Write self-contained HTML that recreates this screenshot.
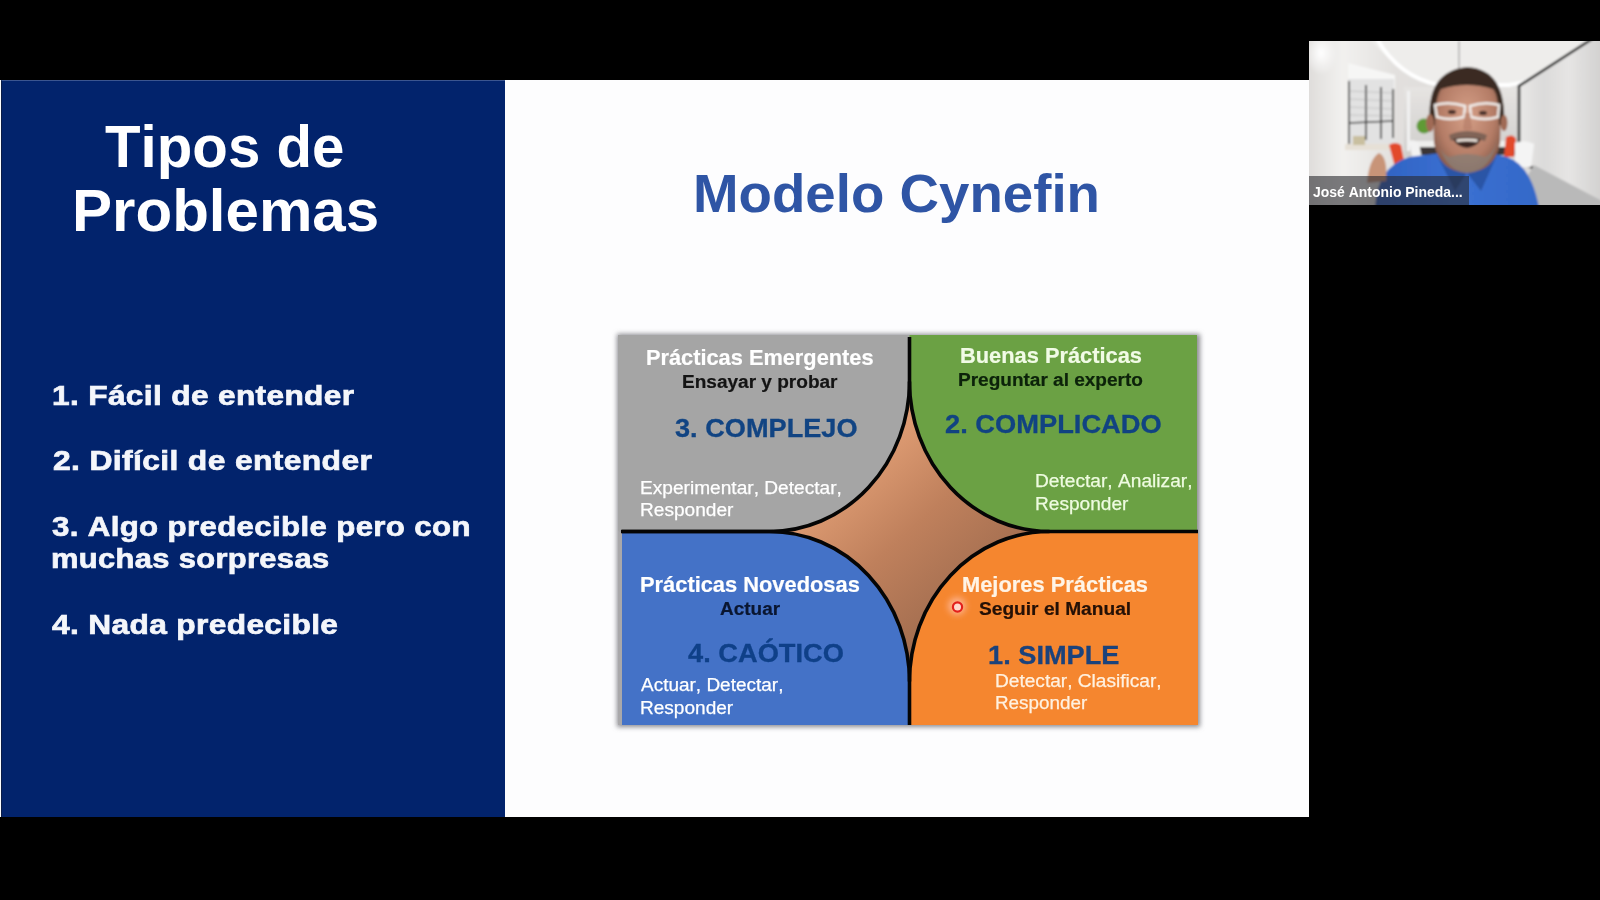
<!DOCTYPE html>
<html><head><meta charset="utf-8">
<style>
html,body{margin:0;padding:0;background:#000;width:1600px;height:900px;overflow:hidden}
body{position:relative;font-family:"Liberation Sans",sans-serif}
.slide{position:absolute;left:0;top:80px;width:1309px;height:737px;background:#fdfdfe}
.panel{position:absolute;left:1px;top:80px;width:504px;border-left:1px solid #0b1c46;box-sizing:border-box;border-top:1px solid #3b5590;height:737px;background:#02236c}
.dg{position:absolute;left:0;top:0}
.t{position:absolute;white-space:nowrap;line-height:1;transform-origin:0 0;font-kerning:none}
.cam{position:absolute;left:1309px;top:41px;width:291px;height:164px;overflow:hidden;background:#d8d6d4}
</style></head><body>
<div class="slide"></div>
<div class="panel"></div>
<svg class="dg" width="1600" height="900" viewBox="0 0 1600 900">
<defs>
<linearGradient id="star" x1="830" y1="440" x2="990" y2="620" gradientUnits="userSpaceOnUse">
<stop offset="0" stop-color="#eba77c"/>
<stop offset="0.5" stop-color="#bf805c"/>
<stop offset="1" stop-color="#9a684c"/>
</linearGradient>
<filter id="glow" x="-100%" y="-100%" width="300%" height="300%"><feGaussianBlur stdDeviation="3"/></filter>
<filter id="sh" x="-5%" y="-5%" width="110%" height="110%"><feGaussianBlur stdDeviation="2.5"/></filter>
</defs>
<rect x="617" y="334" width="583" height="393" fill="#8a8a90" filter="url(#sh)"/>
<rect x="759.5" y="371.5" width="300" height="320" fill="url(#star)"/>
<path d="M618 335 H909.5 V381.5 A140 150 0 0 1 769.5 531.5 H618 Z" fill="#a5a5a5"/>
<path d="M909.5 335 H1197 V531.5 H1049.5 A140 150 0 0 1 909.5 381.5 Z" fill="#6ba144"/>
<rect x="618" y="531.5" width="6" height="193.5" fill="#a9a8aa"/>
<path d="M622 531.5 H769.5 A140 150 0 0 1 909.5 681.5 V725 H622 Z" fill="#4472c7"/>
<path d="M909.5 725 V681.5 A140 150 0 0 1 1049.5 531.5 H1198 V725 Z" fill="#f5862f"/>
<g fill="none" stroke="#050505" stroke-width="3.6">
<path d="M909.5 337 V381.5 A140 150 0 0 1 769.5 531.5 H621"/>
<path d="M909.5 381.5 A140 150 0 0 0 1049.5 531.5 H1198"/>
<path d="M622 531.5 H769.5 A140 150 0 0 1 909.5 681.5 V725"/>
<path d="M909.5 681.5 A140 150 0 0 1 1049.5 531.5"/>
</g>
<circle cx="957" cy="606" r="9" fill="#ffb898" opacity="0.85" filter="url(#glow)"/>
<circle cx="957.5" cy="607" r="4.6" fill="#ffd8cc" stroke="#e3201b" stroke-width="2.2"/>
</svg>

<div class="cam"><svg width="291" height="164" viewBox="0 0 291 164" style="position:absolute;left:0;top:0">
<defs>
<linearGradient id="wallL" x1="0" y1="0" x2="1" y2="0">
<stop offset="0" stop-color="#dedcda"/><stop offset="0.12" stop-color="#f2f1ef"/><stop offset="0.3" stop-color="#e2e0de"/><stop offset="1" stop-color="#d8d6d4"/>
</linearGradient>
<linearGradient id="back" x1="0" y1="0" x2="0" y2="1">
<stop offset="0" stop-color="#e6e4e2"/><stop offset="1" stop-color="#cfcdcb"/>
</linearGradient>
<linearGradient id="rwall" x1="0" y1="0" x2="1" y2="0">
<stop offset="0" stop-color="#e9e8e7"/><stop offset="0.3" stop-color="#dcdbda"/><stop offset="0.6" stop-color="#e6e5e4"/><stop offset="1" stop-color="#d2d1d0"/>
</linearGradient>
<linearGradient id="shirt" x1="0" y1="0" x2="1" y2="0">
<stop offset="0" stop-color="#2f62c2"/><stop offset="0.5" stop-color="#3b70d2"/><stop offset="1" stop-color="#3469c8"/>
</linearGradient>
<radialGradient id="face" cx="0.5" cy="0.45" r="0.62">
<stop offset="0" stop-color="#d6a088"/><stop offset="0.65" stop-color="#b47c66"/><stop offset="1" stop-color="#7c5444"/>
</radialGradient>
<radialGradient id="spot"><stop offset="0" stop-color="#ffffff"/><stop offset="1" stop-color="#ffffff" stop-opacity="0"/></radialGradient>
<filter id="bl"><feGaussianBlur stdDeviation="1"/></filter>
</defs>
<g filter="url(#bl)">
<rect x="-2" y="-2" width="295" height="168" fill="url(#wallL)"/>
<path d="M60 -2 H293 V20 Q240 40 200 44 H120 Q90 30 60 -2 Z" fill="#eeedeb"/>
<ellipse cx="12" cy="12" rx="16" ry="22" fill="url(#spot)"/>
<path d="M39 22 L86 34 V48 L39 40 Z" fill="#f6f6f5"/>
<path d="M68 -2 Q90 36 130 44 L200 44 Q240 38 262 20" fill="none" stroke="#ffffff" stroke-width="4"/>
<rect x="95" y="46" width="115" height="70" fill="url(#back)"/>
<rect x="98" y="50" width="3" height="60" fill="#f2f2f2"/>
<line x1="150" y1="0" x2="150" y2="30" stroke="#777" stroke-width="0.8"/>
<path d="M281 -2 L210 45 V120 L293 162 V-2 Z" fill="url(#rwall)"/>
<path d="M283 -2 L210 45 V120 L293 162" fill="none" stroke="#1a1a1a" stroke-width="2.6"/>
<path d="M225 124 L293 160 V166 H200 Z" fill="#b9b9b9"/>
<rect x="39" y="38" width="46" height="65" fill="#e2e2e2"/>
<g stroke="#3a3a3a" stroke-width="1.7"><line x1="40" y1="40" x2="40" y2="103"/><line x1="57" y1="44" x2="57" y2="99"/><line x1="72" y1="46" x2="72" y2="98"/><line x1="84" y1="48" x2="84" y2="97"/><line x1="40" y1="82" x2="84" y2="80"/></g>
<g stroke="#9a9a9a" stroke-width="0.6" opacity="0.7"><line x1="40" y1="50" x2="84" y2="52"/><line x1="40" y1="58" x2="84" y2="60"/><line x1="40" y1="66" x2="84" y2="68"/><line x1="40" y1="74" x2="84" y2="75"/></g>
<rect x="36" y="103" width="56" height="6" fill="#e6e0d6"/>
<rect x="44" y="95" width="12" height="9" fill="#c9bf9f"/>
<circle cx="115" cy="85" r="7.5" fill="#5f9a36"/>
<rect x="106" y="100" width="100" height="6" fill="#eeeeec"/>
<rect x="108" y="106" width="98" height="8" fill="#3a3634"/>
<path d="M80 104 Q86 100 92 104 L96 124 L86 126 Z" fill="#e24a2c"/>
<path d="M100 100 Q106 98 110 102 L113 118 L104 120 Z" fill="#f2f2f2"/>
<path d="M197 96 Q204 92 207 98 L205 116 L195 116 Z" fill="#e24a2c"/>
<path d="M206 102 Q216 98 225 103 L222 126 L206 126 Z" fill="#f4f4f4"/>
<path d="M66 166 Q68 126 100 116 L132 112 Q156 130 182 112 L198 116 Q222 124 230 166 Z" fill="url(#shirt)"/>
<path d="M128 114 L146 150 L158 132 L172 150 L188 114 Q158 128 128 114 Z" fill="#2a55a6"/>
<path d="M124 70 Q124 30 158 28 Q192 30 192 70 L191 102 Q186 130 158 132 Q130 130 125 102 Z" fill="url(#face)"/>
<path d="M121 84 Q116 30 158 26 Q198 28 195 84 L190 84 Q190 54 184 48 Q158 40 132 48 Q126 56 126 84 Z" fill="#3a2a22"/>
<ellipse cx="121" cy="82" rx="4" ry="9" fill="#a06a55"/>
<ellipse cx="195" cy="82" rx="3.5" ry="8" fill="#a06a55"/>
<path d="M128 94 Q134 130 158 132 Q184 130 189 94 Q186 112 176 116 Q158 110 140 116 Q130 112 128 94 Z" fill="#8a7d74" opacity="0.8"/>
<path d="M140 94 Q158 86 178 94 L176 100 Q158 94 142 100 Z" fill="#6f5a50" opacity="0.8"/>
<path d="M144 98 Q158 95 172 98 Q168 106 158 107 Q148 106 144 98 Z" fill="#3a2620"/>
<path d="M147 98.5 Q158 96.5 169 98.5 L168 101 Q158 99.5 148 101 Z" fill="#efe6de"/>
<g fill="none" stroke="#f2f0ee" stroke-width="2.6" opacity="0.95">
<path d="M126 64 Q140 60 156 65 L155 76 Q141 80 128 76 Z"/>
<path d="M161 65 Q176 60 190 64 L189 76 Q176 80 162 76 Z"/>
</g>
<ellipse cx="143" cy="71" rx="4" ry="2.2" fill="#4a302a"/>
<ellipse cx="174" cy="72" rx="4" ry="2.2" fill="#4a302a"/>
<path d="M156 72 L154 88 Q158 91 163 88 L161 72" fill="#b57d68" opacity="0.7"/>
<path d="M58 142 Q60 118 70 112 Q79 116 77 140 Z" fill="#c89478"/>
</g>
<rect x="0" y="135" width="160" height="29" fill="#2a2a2e" opacity="0.6"/>
</svg>
</div>
<div class="t" style="left:105.09px;top:116.62px;font-size:59.5px;font-weight:700;color:#ffffff;letter-spacing:0px;transform:scaleX(0.9789);">Tipos de</div>
<div class="t" style="left:71.96px;top:181.32px;font-size:59.5px;font-weight:700;color:#ffffff;letter-spacing:0px;transform:scaleX(1.0096);">Problemas</div>
<div class="t" style="left:51.95px;top:382.94px;font-size:27px;font-weight:700;color:#f4f6fb;letter-spacing:0.3px;transform:scaleX(1.1716);-webkit-text-stroke:0.7px #f4f6fb;">1. Fácil de entender</div>
<div class="t" style="left:52.97px;top:448.14px;font-size:27px;font-weight:700;color:#f4f6fb;letter-spacing:0.3px;transform:scaleX(1.1794);-webkit-text-stroke:0.7px #f4f6fb;">2. Difícil de entender</div>
<div class="t" style="left:51.88px;top:513.74px;font-size:27px;font-weight:700;color:#f4f6fb;letter-spacing:0.3px;transform:scaleX(1.1565);-webkit-text-stroke:0.7px #f4f6fb;">3. Algo predecible pero con</div>
<div class="t" style="left:50.60px;top:546.14px;font-size:27px;font-weight:700;color:#f4f6fb;letter-spacing:0.3px;transform:scaleX(1.1438);-webkit-text-stroke:0.7px #f4f6fb;">muchas sorpresas</div>
<div class="t" style="left:52.16px;top:611.94px;font-size:27px;font-weight:700;color:#f4f6fb;letter-spacing:0.3px;transform:scaleX(1.1734);-webkit-text-stroke:0.7px #f4f6fb;">4. Nada predecible</div>
<div class="t" style="left:692.96px;top:166.64px;font-size:54.4px;font-weight:700;color:#2f55a5;letter-spacing:0px;transform:scaleX(1.0051);">Modelo Cynefin</div>
<div class="t" style="left:645.61px;top:348.00px;font-size:21.5px;font-weight:700;color:#ffffff;letter-spacing:0px;transform:scaleX(1.0126);-webkit-text-stroke:0.2px currentColor;">Prácticas Emergentes</div>
<div class="t" style="left:681.78px;top:373.60px;font-size:17.6px;font-weight:700;color:#141414;letter-spacing:0px;transform:scaleX(1.0819);-webkit-text-stroke:0.2px currentColor;">Ensayar y probar</div>
<div class="t" style="left:674.55px;top:415.19px;font-size:26px;font-weight:700;color:#114483;letter-spacing:0px;transform:scaleX(1.0443);-webkit-text-stroke:0.3px currentColor;">3. COMPLEJO</div>
<div class="t" style="left:640.07px;top:478.97px;font-size:18.7px;font-weight:400;color:#ffffff;letter-spacing:0px;transform:scaleX(1.0228);-webkit-text-stroke:0.25px currentColor;">Experimentar, Detectar,</div>
<div class="t" style="left:640.07px;top:500.97px;font-size:18.7px;font-weight:400;color:#ffffff;letter-spacing:0px;transform:scaleX(1.0211);-webkit-text-stroke:0.25px currentColor;">Responder</div>
<div class="t" style="left:959.50px;top:346.30px;font-size:21.5px;font-weight:700;color:#f1fbe6;letter-spacing:0px;transform:scaleX(1.0153);-webkit-text-stroke:0.2px currentColor;">Buenas Prácticas</div>
<div class="t" style="left:957.78px;top:371.60px;font-size:17.6px;font-weight:700;color:#0c220a;letter-spacing:0px;transform:scaleX(1.0806);-webkit-text-stroke:0.2px currentColor;">Preguntar al experto</div>
<div class="t" style="left:945.28px;top:411.19px;font-size:26px;font-weight:700;color:#114382;letter-spacing:0px;transform:scaleX(1.0492);-webkit-text-stroke:0.3px currentColor;">2. COMPLICADO</div>
<div class="t" style="left:1034.96px;top:472.47px;font-size:18.7px;font-weight:400;color:#eefbe0;letter-spacing:0px;transform:scaleX(1.0245);-webkit-text-stroke:0.25px currentColor;">Detectar, Analizar,</div>
<div class="t" style="left:1034.97px;top:494.97px;font-size:18.7px;font-weight:400;color:#eefbe0;letter-spacing:0px;transform:scaleX(1.0211);-webkit-text-stroke:0.25px currentColor;">Responder</div>
<div class="t" style="left:640.20px;top:575.20px;font-size:21.5px;font-weight:700;color:#ffffff;letter-spacing:0px;transform:scaleX(1.0162);-webkit-text-stroke:0.2px currentColor;">Prácticas Novedosas</div>
<div class="t" style="left:720.46px;top:600.50px;font-size:17.6px;font-weight:700;color:#0a1630;letter-spacing:0px;transform:scaleX(1.0776);-webkit-text-stroke:0.2px currentColor;">Actuar</div>
<div class="t" style="left:687.61px;top:640.19px;font-size:26px;font-weight:700;color:#0f4088;letter-spacing:0px;transform:scaleX(1.0483);-webkit-text-stroke:0.3px currentColor;">4. CAÓTICO</div>
<div class="t" style="left:641.00px;top:675.77px;font-size:18.7px;font-weight:400;color:#ffffff;letter-spacing:0px;transform:scaleX(1.0158);-webkit-text-stroke:0.25px currentColor;">Actuar, Detectar,</div>
<div class="t" style="left:640.27px;top:698.67px;font-size:18.7px;font-weight:400;color:#ffffff;letter-spacing:0px;transform:scaleX(1.0189);-webkit-text-stroke:0.25px currentColor;">Responder</div>
<div class="t" style="left:961.60px;top:574.70px;font-size:21.5px;font-weight:700;color:#fff4e6;letter-spacing:0px;transform:scaleX(1.0170);-webkit-text-stroke:0.2px currentColor;">Mejores Prácticas</div>
<div class="t" style="left:978.66px;top:600.70px;font-size:17.6px;font-weight:700;color:#241006;letter-spacing:0px;transform:scaleX(1.0879);-webkit-text-stroke:0.2px currentColor;">Seguir el Manual</div>
<div class="t" style="left:988.10px;top:642.29px;font-size:26px;font-weight:700;color:#1b427c;letter-spacing:0px;transform:scaleX(1.0461);-webkit-text-stroke:0.3px currentColor;">1. SIMPLE</div>
<div class="t" style="left:994.77px;top:671.77px;font-size:18.7px;font-weight:400;color:#fff1e0;letter-spacing:0px;transform:scaleX(1.0220);-webkit-text-stroke:0.25px currentColor;">Detectar, Clasificar,</div>
<div class="t" style="left:994.79px;top:694.07px;font-size:18.7px;font-weight:400;color:#fff1e0;letter-spacing:0px;transform:scaleX(1.0089);-webkit-text-stroke:0.25px currentColor;">Responder</div>
<div class="t" style="left:1313.26px;top:184.72px;font-size:14.5px;font-weight:700;color:#ffffff;letter-spacing:0px;transform:scaleX(0.9627);">José Antonio Pineda...</div>

</body></html>
